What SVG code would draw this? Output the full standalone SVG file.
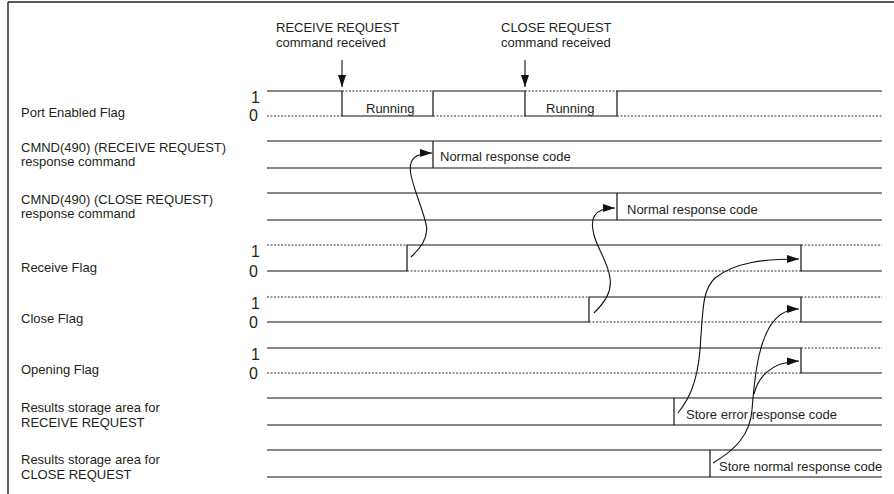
<svg xmlns="http://www.w3.org/2000/svg" width="894" height="494" viewBox="0 0 894 494">
<style>
text{font-family:"Liberation Sans",Arial,sans-serif;font-size:13px;fill:#231f20}
.d{font-size:16px}
.s{stroke:#111;stroke-width:1.2;fill:none}
.dot{stroke:#333;stroke-width:1;stroke-dasharray:2,1.5;fill:none}
.c{stroke:#111;stroke-width:1.1;fill:none}
</style>
<defs>
<marker id="ah" viewBox="0 0 12 8" refX="12" refY="4" markerWidth="12" markerHeight="8" markerUnits="userSpaceOnUse" orient="auto">
<path d="M0,0 L12,4 L0,8 Z" fill="#111"/>
</marker>
</defs>
<rect width="894" height="494" fill="#fff"/>
<g id="frame">
<path d="M8,2 H894 M8,2 V494" stroke="#222" stroke-width="1.4" fill="none"/>
</g>

<g id="cmd-labels">
<text x="276" y="32">RECEIVE REQUEST</text>
<text x="276" y="47">command received</text>
<text x="501" y="32">CLOSE REQUEST</text>
<text x="501" y="47">command received</text>
</g>

<g id="port-enabled">
<text x="21" y="117">Port Enabled Flag</text>
<text class="d" x="251" y="103">1</text>
<text class="d" x="249" y="121">0</text>
<path class="s" d="M267,91 H342 V116 H433 V91 H525 V116 H617 V91 H882"/>
<path class="dot" d="M267,116 H342 M433,116 H525 M617,116 H882 M342,91 H433 M525,91 H617"/>
<text x="366" y="113">Running</text>
<text x="546" y="113">Running</text>
</g>

<g id="cmnd-receive">
<text x="21" y="152">CMND(490) (RECEIVE REQUEST)</text>
<text x="21" y="166">response command</text>
<path class="s" d="M267,141 H882 M267,168 H882 M433,141 V168"/>
<text x="440" y="161">Normal response code</text>
</g>

<g id="cmnd-close">
<text x="21" y="204">CMND(490) (CLOSE REQUEST)</text>
<text x="21" y="218">response command</text>
<path class="s" d="M267,193 H882 M267,220 H882 M617,193 V220"/>
<text x="627" y="214">Normal response code</text>
</g>

<g id="receive-flag">
<text x="21" y="272">Receive Flag</text>
<text class="d" x="251" y="257">1</text>
<text class="d" x="249" y="277">0</text>
<path class="s" d="M267,271 H407 V245 H801 V271 H882"/>
<path class="dot" d="M267,245 H407 M801,245 H882 M407,271 H801"/>
</g>

<g id="close-flag">
<text x="21" y="323">Close Flag</text>
<text class="d" x="251" y="309">1</text>
<text class="d" x="249" y="328">0</text>
<path class="s" d="M267,322 H589 V297 H801 V322 H882"/>
<path class="dot" d="M267,297 H589 M801,297 H882 M589,322 H801"/>
</g>

<g id="opening-flag">
<text x="21" y="374">Opening Flag</text>
<text class="d" x="251" y="360">1</text>
<text class="d" x="249" y="379">0</text>
<path class="s" d="M267,348 H801 V373 H882"/>
<path class="dot" d="M267,373 H801 M801,348 H882"/>
</g>

<g id="results-receive">
<text x="21" y="412">Results storage area for</text>
<text x="21" y="427">RECEIVE REQUEST</text>
<path class="s" d="M267,398 H882 M267,425 H882 M674,398 V425"/>
<text x="686" y="419">Store error response code</text>
</g>

<g id="results-close">
<text x="21" y="464">Results storage area for</text>
<text x="21" y="479">CLOSE REQUEST</text>
<path class="s" d="M267,450 H882 M267,477 H882 M710,450 V477"/>
<text x="719" y="471">Store normal response code</text>
</g>

<g id="connectors">
<path class="c" d="M342,60 V87" marker-end="url(#ah)"/>
<path class="c" d="M525,60 V87" marker-end="url(#ah)"/>
<path class="c" d="M411,257 C422,247 429,236 426,224 C423,210 414,190 411,175 C408,160 414,153 432,153" marker-end="url(#ah)"/>
<path class="c" d="M594,313 C605,302 612,292 610,278 C608,262 598,250 594,235 C590,220 592,208 615,208" marker-end="url(#ah)"/>
<path class="c" d="M678,413 C688,400 697,385 700,350 C703,310 702,290 715,278 C735,262 765,259 799,259" marker-end="url(#ah)"/>
<path class="c" d="M713,463 C735,450 750,435 752,410 C755,370 760,330 780,315 C787,310 792,309 799,309" marker-end="url(#ah)"/>
<path class="c" d="M754,394 C758,378 770,362 799,361" marker-end="url(#ah)"/>
</g>
</svg>
